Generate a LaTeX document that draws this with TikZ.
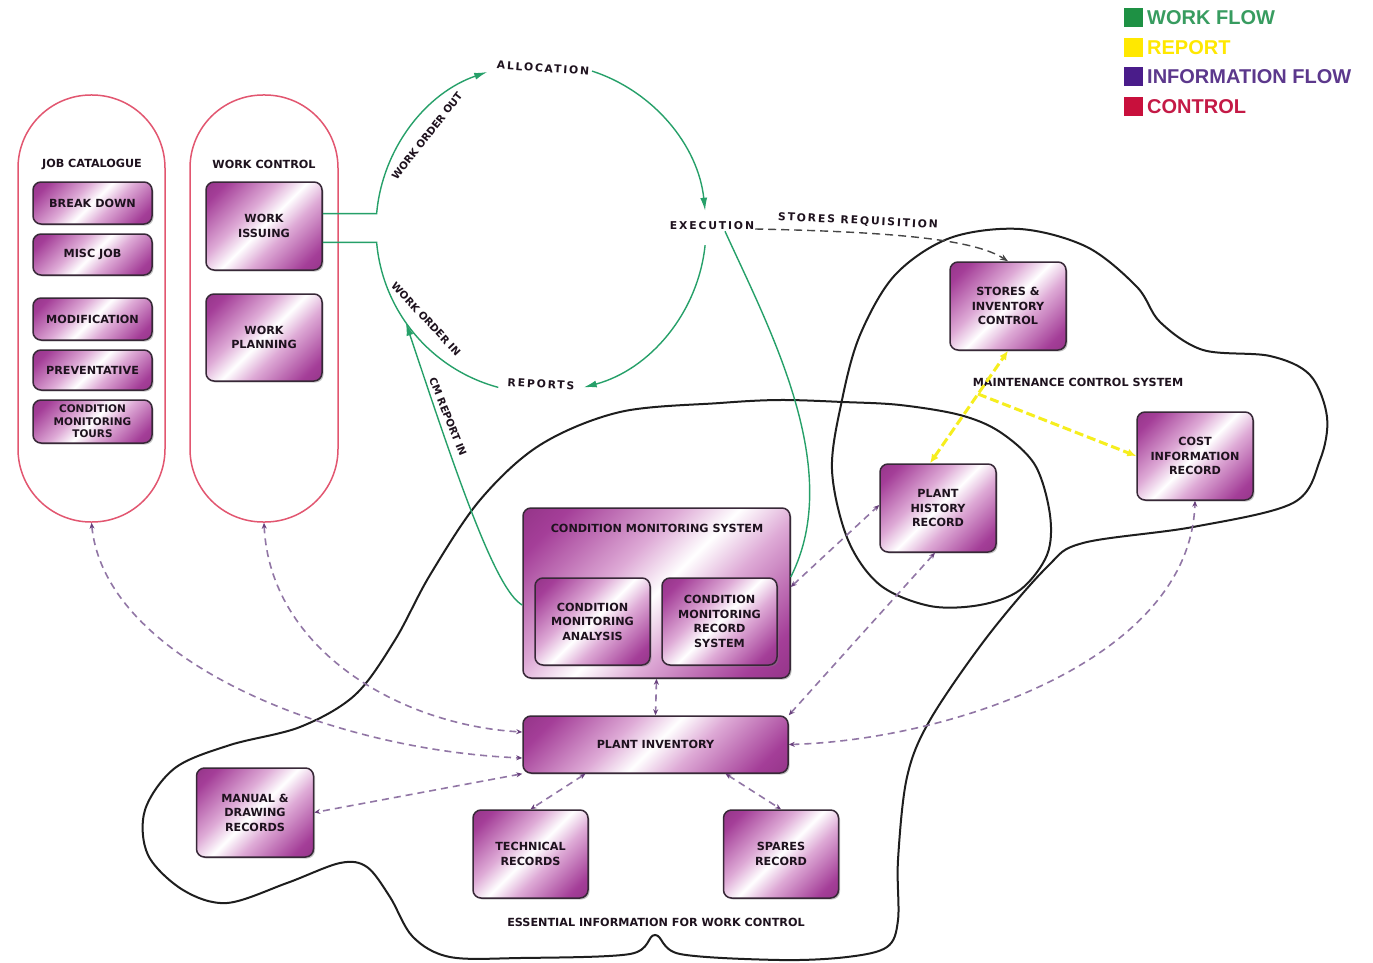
\documentclass[tikz,border=0pt]{standalone}
\usepackage{fontspec}
\setmainfont{DejaVu Sans}
\newfontfamily\spacedfont[LetterSpace=17]{DejaVu Sans}
\newfontfamily\legendfont{Liberation Sans}
\usetikzlibrary{arrows.meta,shadows,calc}
\definecolor{bxA}{RGB}{164,62,152}
\definecolor{bxB}{RGB}{222,170,214}
\definecolor{bxD}{RGB}{120,36,108}
\definecolor{boxedge}{RGB}{55,40,55}
\definecolor{boxink}{RGB}{30,18,30}
\definecolor{flowgreen}{RGB}{38,160,105}
\definecolor{infopurple}{RGB}{145,118,165}
\definecolor{infohead}{RGB}{105,65,125}
\definecolor{reportyellow}{RGB}{246,238,30}
\definecolor{pillred}{RGB}{226,86,112}
\definecolor{outlinec}{RGB}{30,30,30}
\definecolor{reqgray}{RGB}{70,70,70}
\definecolor{legGreen}{RGB}{30,145,68}
\definecolor{legGreenT}{RGB}{56,156,96}
\definecolor{legYellow}{RGB}{255,232,0}
\definecolor{legPurple}{RGB}{74,28,138}
\definecolor{legPurpleT}{RGB}{92,56,140}
\definecolor{legRed}{RGB}{200,16,60}
\definecolor{legRedT}{RGB}{196,26,70}
\pgfdeclarehorizontalshading{sheen}{100bp}{color(0bp)=(bxD); color(22bp)=(bxA); color(40bp)=(bxB); color(50bp)=(white); color(60bp)=(bxB); color(78bp)=(bxA); color(100bp)=(bxD)}
\newcommand\boxtextfont{\bfseries\fontsize{11.2}{14.5}\selectfont}
\newcommand\lbltextfont{\bfseries\fontsize{10.3}{12}\selectfont}
\newcommand\spacedtextfont{\spacedfont\bfseries\fontsize{10.8}{12}\selectfont}
\newcommand\legtextfont{\legendfont\bfseries\fontsize{20}{22}\selectfont}
\begin{document}
\begin{tikzpicture}[x=1pt,y=-1pt,
  box/.style={shade, shading=sheen, shading angle=-45, draw=boxedge, line width=1.5pt,
    rounded corners=8pt, align=center, text=boxink, font=\boxtextfont, inner sep=1pt,
    drop shadow={shadow xshift=1.5pt, shadow yshift=-1.5pt, opacity=0.45}},
  pill/.style={draw=pillred, line width=1.5pt, rounded corners=73pt, inner sep=0pt,
    minimum height=427pt},
  plain/.style={font=\boxtextfont, text=boxink, inner sep=1pt, align=center},
  arclbl/.style={font=\lbltextfont, text=boxink, inner sep=0pt},
  spaced/.style={font=\spacedtextfont, text=boxink, inner sep=1pt},
  flow/.style={draw=flowgreen, line width=1.4pt},
  flowarrow/.style={flow, arrows={-Latex[length=13pt,width=7pt]}},
  info/.style={draw=infopurple, line width=1.6pt, dash pattern=on 7pt off 5pt,
    arrows={Stealth[length=6pt,width=5pt,color=infohead]-Stealth[length=6pt,width=5pt,color=infohead]}},
  report/.style={draw=reportyellow, line width=3pt, dash pattern=on 9pt off 4pt},
  reportboth/.style={report, arrows={Latex[length=9pt,width=8pt]-Latex[length=9pt,width=8pt]}},
  reportend/.style={report, arrows={-Latex[length=9pt,width=8pt]}},
  req/.style={draw=reqgray, line width=1.4pt, dash pattern=on 8pt off 5pt,
    arrows={-Stealth[length=8pt,width=6pt]}},
  outline/.style={draw=outlinec, line width=2pt},
  legsq/.style={minimum size=19pt, inner sep=0pt},
  legtxt/.style={anchor=west, font=\legtextfont, inner sep=0pt}
]
\fill[white] (0,0) rectangle (1373,963);
\useasboundingbox (0,0) rectangle (1373,963);

% ---------- big self-crossing outline ----------
\draw[outline] plot[smooth cycle, tension=0.55] coordinates {
 (720,403) (620,412) (540,445) (480,500) (430,575) (395,640) (355,695) (300,727)
 (230,745) (175,768) (145,810) (148,855) (183,890) (227,903) (287,883) (340,863)
 (367,867) (390,897) (413,937) (450,957) (520,958) (630,954) (655,935) (680,954)
 (780,960) (847,957) (887,947) (898,920) (898,860) (907,777) (930,720) (987,637)
 (1047,567) (1083,543) (1193,527) (1293,503) (1320,460) (1327,417) (1310,375)
 (1270,356) (1203,350) (1160,322) (1137,287) (1087,247) (1020,229) (950,238)
 (895,275) (860,335) (842,400) (832,470) (848,540) (880,585) (930,606) (980,605)
 (1020,590) (1047,555) (1050,515) (1035,465) (1000,432) (960,415) (900,405)
 (843,402) (780,400)};

% ---------- legend ----------
\node[legsq, fill=legGreen] (lsq1) at (1133.5,17.5) {};
\node[legsq, fill=legYellow] (lsq2) at (1133.5,47.5) {};
\node[legsq, fill=legPurple] (lsq3) at (1133.5,76.5) {};
\node[legsq, fill=legRed] (lsq4) at (1133.5,106.5) {};
\node[legtxt, text=legGreenT] (lt1) at (1147,18) {WORK FLOW};
\node[legtxt, text=legYellow] (lt2) at (1147,48) {REPORT};
\node[legtxt, text=legPurpleT] (lt3) at (1147,77) {INFORMATION FLOW};
\node[legtxt, text=legRedT] (lt4) at (1147,107) {CONTROL};

% ---------- pills ----------
\node[pill, minimum width=147pt] (jc) at (91.5,308.5) {};
\node[pill, minimum width=148pt] (wc) at (264,308.5) {};
\node[plain] (jct) at (92,164) {JOB CATALOGUE};
\node[plain] (wct) at (264,164) {WORK CONTROL};

\node[box, minimum width=119pt, minimum height=42pt] (bd) at (92.5,203) {BREAK DOWN};
\node[box, minimum width=119pt, minimum height=41pt] (mj) at (92.5,254.5) {MISC JOB};
\node[box, minimum width=119pt, minimum height=42pt] (mod) at (92.5,319) {MODIFICATION};
\node[box, minimum width=119pt, minimum height=40pt] (prev) at (92.5,370) {PREVENTATIVE};
\node[box, minimum width=119pt, minimum height=43pt, font=\bfseries\fontsize{10.5}{12.5}\selectfont] (cmt) at (92.5,421.5) {CONDITION\\MONITORING\\TOURS};

\node[box, minimum width=116pt, minimum height=88pt] (wi) at (264,226) {WORK\\ISSUING};
\node[box, minimum width=116pt, minimum height=87pt] (wp) at (264,337.5) {WORK\\PLANNING};

% ---------- right boxes ----------
\node[box, minimum width=116pt, minimum height=88pt] (stores) at (1008,306) {STORES \&\\INVENTORY\\CONTROL};
\node[box, minimum width=116pt, minimum height=88pt] (cost) at (1195,456) {COST\\INFORMATION\\RECORD};
\node[box, minimum width=116pt, minimum height=88pt] (ph) at (938,508) {PLANT\\HISTORY\\RECORD};
\node[plain] (mcs) at (1078,382) {MAINTENANCE CONTROL SYSTEM};

% ---------- condition monitoring ----------
\node[box, minimum width=267pt, minimum height=170pt] (cms) at (656.5,593) {};
\node[plain] (cmst) at (657,528) {CONDITION MONITORING SYSTEM};
\node[box, minimum width=115pt, minimum height=87pt] (cma) at (592.5,621.5) {CONDITION\\MONITORING\\ANALYSIS};
\node[box, minimum width=115pt, minimum height=87pt] (cmr) at (719.5,621.5) {CONDITION\\MONITORING\\RECORD\\SYSTEM};

% ---------- essential info ----------
\node[box, minimum width=265pt, minimum height=57pt] (pinv) at (655.5,744.5) {PLANT INVENTORY};
\node[box, minimum width=117pt, minimum height=89pt] (man) at (255,812.5) {MANUAL \&\\DRAWING\\RECORDS};
\node[box, minimum width=115pt, minimum height=88pt] (tech) at (530.5,854) {TECHNICAL\\RECORDS};
\node[box, minimum width=115pt, minimum height=88pt] (spares) at (781,854) {SPARES\\RECORD};
\node[plain] (eiw) at (656,922) {ESSENTIAL INFORMATION FOR WORK CONTROL};

% ---------- work cycle labels ----------
\coordinate (C) at (541,228);
\node[spaced, rotate=-4] (alloc) at (543,68) {ALLOCATION};
\node[spaced] (exec) at (712,226) {EXECUTION};
\node[spaced, rotate=-3] (rep) at (541,384) {REPORTS};
\node[spaced, rotate=-3] (sreqt) at (858,221) {STORES REQUISITION};
\node[arclbl, rotate=52] (woout) at (427,136) {WORK ORDER OUT};
\node[arclbl, rotate=-47] (woin) at (426,319) {WORK ORDER IN};
\node[arclbl, rotate=-68] (cmin) at (448,417) {CM REPORT IN};

\coordinate (o1) at ($(C)+(185:165)$);
\coordinate (a2) at ($(C)+(288:165)$);
\coordinate (e2) at ($(C)+(6:165)$);
\coordinate (r2) at ($(C)+(105:165)$);
\coordinate (i1) at ($(C)+(175:165)$);
\coordinate (cmtip) at ($(C)+(145:165)$);

% ---------- work flow (green) ----------
\draw[flowarrow] (wi.east |- o1) -- (o1) arc[start angle=185, end angle=251, radius=165];
\draw[flowarrow] (a2) arc[start angle=288, end angle=354, radius=165];
\draw[flowarrow] (e2) arc[start angle=6, end angle=75, radius=165];
\draw[flow] (r2) arc[start angle=105, end angle=175, radius=165] -- (wi.east |- i1);
\draw[flow] ([xshift=13pt]exec.south) .. controls (770,330) and (845,470) .. ([yshift=16pt]cms.east);
\draw[flowarrow] ([yshift=-12pt]cms.west) .. controls (495,590) and (455,470) .. (cmtip);

% ---------- stores requisition ----------
\draw[req] ([yshift=-3pt]exec.east) .. controls (900,232) and (975,240) .. (stores.north);

% ---------- information flow ----------
\draw[info] (jc.south) .. controls (105,660) and (330,750) .. ([yshift=-13.5pt]pinv.west);
\draw[info] (wc.south) .. controls (270,650) and (400,725) .. ([yshift=12.5pt]pinv.west);
\draw[info] (pinv.south west) -- (man.east);
\draw[info] ([xshift=-70pt]pinv.south) -- (tech.north);
\draw[info] ([xshift=70pt]pinv.south) -- (spares.north);
\draw[info] (cms.south) -- (pinv.north);
\draw[info] (pinv.north east) -- ([xshift=-3pt]ph.south);
\draw[info] ([yshift=6pt]cms.east) -- ([yshift=3pt]ph.west);
\draw[info] (pinv.east) .. controls (950,740) and (1190,660) .. (cost.south);

% ---------- reports (yellow) ----------
\coordinate (rj) at (978,394);
\draw[reportboth] ([xshift=-8pt]ph.north) -- (rj) -- (stores.south);
\draw[reportend] (rj) -- (cost.west);
\end{tikzpicture}
\end{document}
